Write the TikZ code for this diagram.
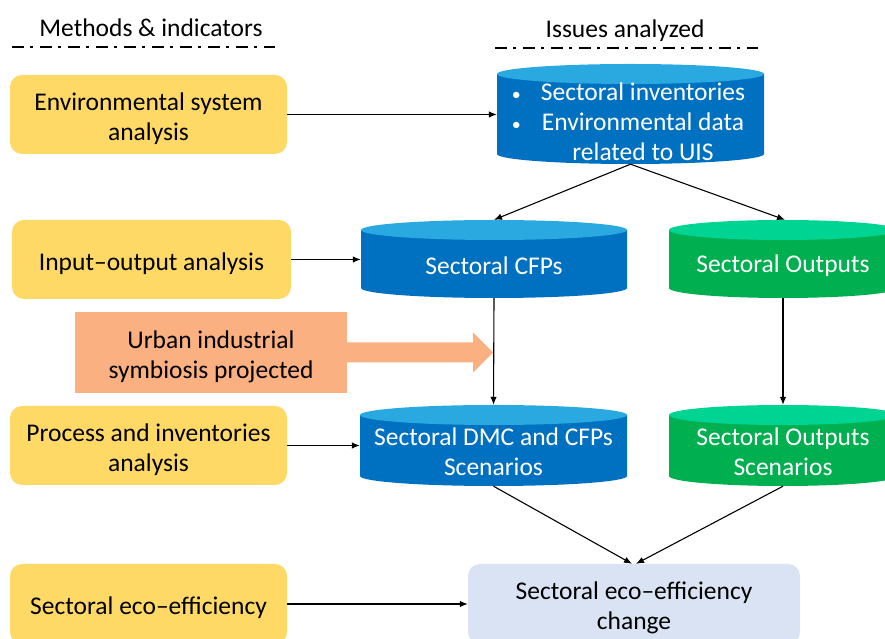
\documentclass[tikz,border=0pt]{standalone}
\usepackage{fontspec}
\setmainfont{Carlito}
\usetikzlibrary{arrows.meta,calc}
\definecolor{ylw}{HTML}{FFD966}
\definecolor{cbody}{HTML}{0070C0}
\definecolor{ctop}{HTML}{29A9E0}
\definecolor{gbody}{HTML}{00B050}
\definecolor{gtop}{HTML}{00D492}
\definecolor{peach}{HTML}{FBB081}
\definecolor{lblue}{HTML}{DAE3F3}
\begin{document}
\begin{tikzpicture}[x=1pt,y=1pt,
  every node/.style={font=\fontsize{25.5}{30}\selectfont},
  txt/.style={label={[align=center, text=black, yshift=-4pt]center:{#1}}},
  ybox/.style={fill=ylw, rounded corners=12pt, inner sep=0pt},
  ebox/.style={fill=lblue, rounded corners=12pt, inner sep=0pt},
  cyltext/.style={text=white, align=center},
  cyl/.style 2 args={inner sep=0pt, path picture={
    \fill[#1] let \p1=(path picture bounding box.south west), \p2=(path picture bounding box.north east) in
      (\x1,{\y2-10pt}) -- (\x1,{\y1+10pt}) arc[start angle=180,end angle=360,x radius={(\x2-\x1)/2},y radius=10pt] -- (\x2,{\y2-10pt}) -- cycle;
    \fill[#2] let \p1=(path picture bounding box.south west), \p2=(path picture bounding box.north east) in
      ({(\x1+\x2)/2},{\y2-10pt}) ellipse[x radius={(\x2-\x1)/2}, y radius=10pt];
  }},
  conn/.style={line width=1.1pt, -{Latex[length=8pt,width=6.5pt]}},
  dashdotline/.style={line width=2pt, dash pattern=on 12pt off 6pt on 3pt off 7pt}
]
\useasboundingbox (0,0) rectangle (885,639);
\clip (0,0) rectangle (885,639);

% headers
\node (h1) at (151,611) {Methods \& indicators};
\node (h2) at (625,608) {Issues analyzed};
\draw[dashdotline] (12,592) -- (275,592);
\draw[dashdotline] (495,591) -- (758,591);

% left boxes
\node[ybox, minimum width=277pt, minimum height=79pt, txt={Environmental system\\analysis}] (b1) at (148.5,524.5) {};
\node[ybox, minimum width=279pt, minimum height=79pt, txt={Input–output analysis}] (b2) at (151.5,379.5) {};
\node[ybox, minimum width=277pt, minimum height=79pt, txt={Process and inventories\\analysis}] (b3) at (148.5,193.5) {};
\node[ybox, minimum width=277pt, minimum height=80pt, txt={Sectoral eco–efficiency}] (b4) at (148.5,35) {};

% cylinders
\node[cyl={cbody}{ctop}, minimum width=267pt, minimum height=100pt,
  label={[cyltext, yshift=-11pt, xshift=-2pt]center:{\begin{tabular}{@{}l@{\hspace{20pt}}c@{}}{\fontsize{18}{30}\selectfont•}&Sectoral inventories\\{\fontsize{18}{30}\selectfont•}&Environmental data\\&related to UIS\end{tabular}}}] (c1) at (630.5,525) {};
\node[cyl={cbody}{ctop}, minimum width=266pt, minimum height=78pt,
  label={[cyltext, yshift=-7pt]center:Sectoral CFPs}] (cfp) at (494,380) {};
\node[cyl={gbody}{gtop}, minimum width=228pt, minimum height=78pt,
  label={[cyltext, yshift=-7pt]center:Sectoral Outputs}] (out) at (783,380) {};
\node[cyl={cbody}{ctop}, minimum width=267pt, minimum height=81pt,
  label={[cyltext, yshift=-6pt]center:{Sectoral DMC and CFPs\\Scenarios}}] (dmc) at (493.5,193.5) {};
\node[cyl={gbody}{gtop}, minimum width=228pt, minimum height=81pt,
  label={[cyltext, yshift=-6pt]center:{Sectoral Outputs\\Scenarios}}] (os) at (783,193.5) {};

% bottom box
\node[ebox, minimum width=332pt, minimum height=80pt, txt={Sectoral eco–efficiency\\change}] (eco) at (634,35) {};

% urban industrial symbiosis arrow
\node[fill=peach, inner sep=0pt, minimum width=272pt, minimum height=81pt, txt={Urban industrial\\symbiosis projected}] (uis) at (211,286.5) {};
\fill[peach] ([yshift=10pt]uis.east) -- ++(126,0) -- ++(0,10) -- ++(20,-20) -- ++(-20,-20) -- ++(0,10) -- ([yshift=-10pt]uis.east) -- cycle;

% connectors
\draw[conn] (b1.east) -- (b1.east -| c1.west);
\draw[conn] (b2.east) -- (b2.east -| cfp.west);
\draw[conn] (b3.east) -- (b3.east -| dmc.west);
\draw[conn] (b4.east) -- (b4.east -| eco.west);
\draw[conn] (c1.south) -- (cfp.north);
\draw[conn] (c1.south) -- ([xshift=2pt]out.north);
\draw[conn] (cfp.south) -- (dmc.north);
\draw[conn] (out.south) -- (os.north);
\draw[conn] (dmc.south) -- ([xshift=-2pt]eco.north);
\draw[conn] (os.south) -- ([xshift=2pt]eco.north);
\end{tikzpicture}
\end{document}
